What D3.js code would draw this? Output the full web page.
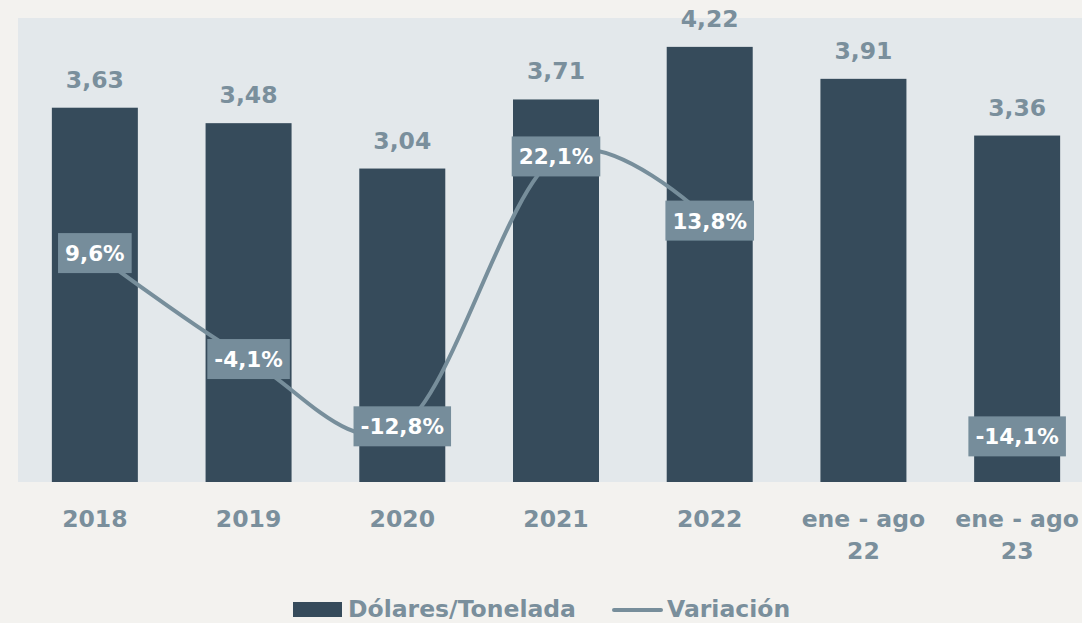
<!DOCTYPE html>
<html><head><meta charset="utf-8">
<script src="https://cdn.jsdelivr.net/npm/d3@7"></script>
<style>
html,body{margin:0;padding:0;background:#f3f2ef;}
svg{display:block;}
text{font-family:"DejaVu Sans",sans-serif;font-weight:bold;}
</style></head>
<body>
<svg id="c" width="1082" height="623"></svg>
<script>
const categories = ["2018","2019","2020","2021","2022","ene - ago\n22","ene - ago\n23"];
const dolaresTonelada = [3.63,3.48,3.04,3.71,4.22,3.91,3.36];
const variacion = [9.6,-4.1,-12.8,22.1,13.8,null,-14.1];
const legendLabels = ["Dólares/Tonelada","Variación"];

const W=1082,H=623;
const plot={left:18,right:1094,top:18,bottom:482};
const svg=d3.select("#c");
const fmt=v=>v.toFixed(2).replace(".",",");
const fmtP=v=>v.toFixed(1).replace(".",",")+"%";

const x=d3.scaleBand().domain(categories).range([plot.left,plot.right]).paddingInner(0.44).paddingOuter(0.22);
const y=d3.scaleLinear().domain([0,4.5]).range([plot.bottom,plot.top]);
const y2=d3.scaleLinear().domain([-20,40]).range([plot.bottom,plot.top]);

svg.append("rect").attr("x",plot.left).attr("y",plot.top).attr("width",W-plot.left).attr("height",plot.bottom-plot.top).attr("fill","#e3e8eb");

const barW=86;
svg.append("g").selectAll("rect").data(categories).join("rect")
  .attr("x",(d)=>x(d)+x.bandwidth()/2-barW/2)
  .attr("y",(d,i)=>y(dolaresTonelada[i]))
  .attr("width",barW)
  .attr("height",(d,i)=>y(0)-y(dolaresTonelada[i]))
  .attr("fill","#364b5b");

svg.append("g").selectAll("text").data(categories).join("text")
  .attr("x",d=>x(d)+x.bandwidth()/2)
  .attr("y",(d,i)=>y(dolaresTonelada[i])-20)
  .attr("text-anchor","middle").attr("font-size",23.5).attr("fill","#7a8f9c")
  .text((d,i)=>fmt(dolaresTonelada[i]));

// x axis labels
const xl=svg.append("g");
categories.forEach(c=>{
  const t=xl.append("text").attr("x",x(c)+x.bandwidth()/2).attr("y",527).attr("text-anchor","middle")
    .attr("font-size",23.5).attr("fill","#7a8f9c");
  c.split("\n").forEach((s,j)=>t.append("tspan").attr("x",x(c)+x.bandwidth()/2).attr("dy",j?32:0).text(s));
});

const cx=(i)=>x(categories[i])+x.bandwidth()/2;
const pts=variacion.map((v,i)=>({i,v}));
const line=d3.line().defined(d=>d.v!==null).x(d=>cx(d.i)).y(d=>y2(d.v)).curve(d3.curveCatmullRom.alpha(0));
svg.append("path").attr("d",line(pts)).attr("fill","none").attr("stroke","#778e9b").attr("stroke-width",4).attr("stroke-linecap","round");

const lg=svg.append("g");
pts.filter(d=>d.v!==null).forEach(d=>{
  const g=lg.append("g");
  const t=g.append("text").attr("x",cx(d.i)).attr("y",y2(d.v)+8).attr("text-anchor","middle")
    .attr("font-size",21.5).attr("fill","#ffffff").text(fmtP(d.v));
  const bb=t.node().getBBox();
  g.insert("rect","text").attr("x",bb.x-7).attr("y",y2(d.v)-20).attr("width",bb.width+14).attr("height",40).attr("fill","#768d9b");
});

// legend
const leg=svg.append("g");
leg.append("rect").attr("x",293).attr("y",602).attr("width",49).attr("height",15).attr("fill","#364b5b");
leg.append("text").attr("x",348).attr("y",617).attr("font-size",23.5).attr("fill","#7a8f9c").text(legendLabels[0]);
leg.append("line").attr("x1",614).attr("x2",661).attr("y1",610).attr("y2",610).attr("stroke","#778e9b").attr("stroke-width",4).attr("stroke-linecap","round");
leg.append("text").attr("x",667).attr("y",617).attr("font-size",23.5).attr("fill","#7a8f9c").text(legendLabels[1]);
</script>
</body></html>
